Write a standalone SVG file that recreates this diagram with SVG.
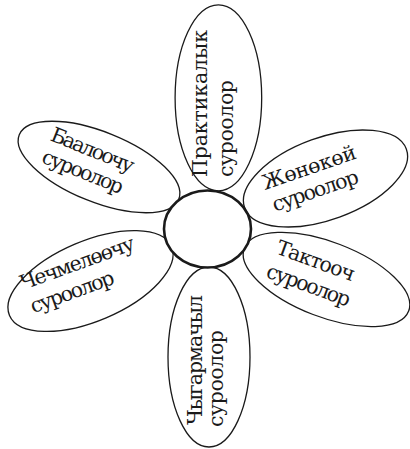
<svg xmlns="http://www.w3.org/2000/svg" width="410" height="449" viewBox="0 0 410 449">
<style>
.petal{fill:#fff;stroke:#1a1a1a;stroke-width:1.3}
.core{fill:#fff;stroke:#1a1a1a;stroke-width:2.6}
text{font-family:"DejaVu Serif","Liberation Serif",serif;font-size:20.5px;fill:#1a1a1a}
</style>
<rect width="410" height="449" fill="#fff"/>
<g id="petal-top">
<ellipse class="petal" cx="218.4" cy="97.8" rx="43.3" ry="93"/>
<g transform="translate(207,177) rotate(-90)">
<text x="0" y="0" textLength="147">Практикалык</text>
<text x="0" y="26" textLength="97">суроолор</text>
</g>
</g>
<g id="petal-bottom">
<ellipse class="petal" cx="209" cy="357" rx="41" ry="90"/>
<g transform="translate(201.7,425) rotate(-90)">
<text x="0" y="0" textLength="130">Чыгармачыл</text>
<text x="-2" y="21.5" textLength="97">суроолор</text>
</g>
</g>
<g id="petal-upper-left">
<ellipse class="petal" cx="99" cy="167" rx="86" ry="35" transform="rotate(22 99 167)"/>
<g transform="translate(49.3,140) rotate(22)">
<text x="0" y="0" textLength="88">Баалоочу</text>
<text x="0" y="23.6" textLength="86">суроолор</text>
</g>
</g>
<g id="petal-upper-right">
<ellipse class="petal" cx="325.5" cy="178.5" rx="86" ry="41" transform="rotate(-20 325.5 178.5)"/>
<g transform="translate(265,190) rotate(-19)">
<text x="0" y="0" textLength="98">Жөнөкөй</text>
<text x="2.4" y="23.8" textLength="90">суроолор</text>
</g>
</g>
<g id="petal-lower-right">
<ellipse class="petal" cx="326.5" cy="279.5" rx="88" ry="37.5" transform="rotate(21 326.5 279.5)"/>
<g transform="translate(275,253.3) rotate(20)">
<text x="0" y="0" textLength="82">Тактооч</text>
<text x="-1.4" y="25.4" textLength="88">суроолор</text>
</g>
</g>
<g id="petal-lower-left">
<ellipse class="petal" cx="90.5" cy="281" rx="88" ry="40" transform="rotate(-23 90.5 281)"/>
<g transform="translate(23.3,290) rotate(-20)">
<text x="0" y="0" textLength="120">Чечмелөөчу</text>
<text x="1.4" y="25.3" textLength="88">суроолор</text>
</g>
</g>
<g id="center">
<ellipse class="core" cx="207.5" cy="229" rx="43.5" ry="38.5"/>
</g>
</svg>
